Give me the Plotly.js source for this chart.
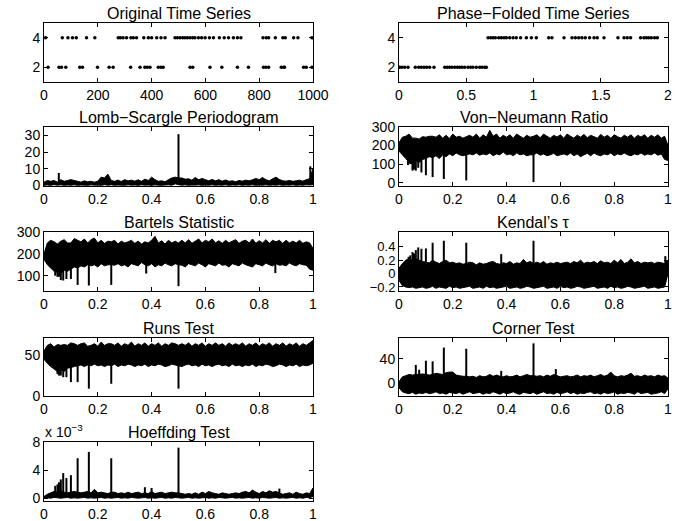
<!DOCTYPE html>
<html><head><meta charset="utf-8">
<script src="https://cdn.plot.ly/plotly-3.0.1.min.js"></script>
<style>html,body{margin:0;padding:0;background:#fff}#chart{width:690px;height:521px}</style>
</head><body><div id="chart"></div>
<script>
// ---- Original time series (time, value) ----
const tsTimeHigh = [6,68,89,106,120,158,189,276,284,294,307,323,332,344,371,388,400,419,435,450,487,496,506,516,524,533,543,553,561,574,586,599,615,630,652,670,686,704,719,732,814,826,835,860,888,897,928,944,996];
const tsTimeLow = [15,56,65,81,133,143,199,242,257,322,357,375,384,394,425,435,443,543,553,617,661,719,760,816,825,835,882,891,894,965,975,996];
// ---- Phase-folded series ----
const phaseLow = [0.005,0.022,0.042,0.067,0.121,0.146,0.166,0.186,0.206,0.228,0.260,0.340,0.359,0.377,0.394,0.414,0.434,0.451,0.468,0.488,0.513,0.533,0.550,0.575,0.600,0.617,0.637,0.649];
const phaseHigh = [0.662,0.682,0.699,0.716,0.741,0.761,0.781,0.798,0.823,0.848,0.872,0.904,0.947,0.984,1.021,1.113,1.137,1.227,1.286,1.311,1.336,1.360,1.385,1.417,1.450,1.474,1.524,1.628,1.673,1.697,1.722,1.796,1.821,1.839,1.856,1.876,1.900,1.921];
const levelLow = 2, levelHigh = 4;

// ---- Statistic spectra: upper / lower envelope of the dense trace on a 0..1 frequency grid, plus isolated spikes ----
const lsUpper = [2,3,2.5,3,2,3.5,2.5,3,3.5,3,2.5,2,2.8,2.2,2.5,2,2.6,5,4.5,6.8,3,2.5,3.2,2.4,3.5,2.8,3.2,2.6,3.4,2.5,3.8,3,5,3.5,2.5,2.8,2.2,3.5,4.5,5,4.5,4.5,3.8,4,3.2,4.8,3.4,4.2,3.5,2.8,3.6,2.8,3.5,2.6,3.3,2.5,2.8,2.2,3,2.6,3.2,2.8,3.4,4.2,3.5,4.8,3.4,2.8,4,5,3.6,2.8,2.6,3,2.5,2.8,3.2,2.6,3.5,4,10];
const lsLower = [0.2,0.3,0.1,0.5,0.2,0.4,0.1,0.3,0.2,0.4,0.1,0.3,0.2,0.1,0.4,0.2,0.3,0.1,0.5,0.2,0.4,0.1,0.3,0.2,0.1,0.4,0.2,0.3,0.1,0.4,0.2,0.3,0.1,0.4,0.2,0.1,0.3,0.4,0.2,1,0.5,0.2,0.4,0.1,0.3,0.2,0.4,0.1,0.3,0.2,0.4,0.1,0.3,0.2,0.4,0.1,0.3,0.2,0.4,0.1,0.3,0.2,0.4,0.1,0.3,0.2,0.4,0.1,0.3,0.2,0.4,0.1,0.3,0.2,0.4,0.1,0.3,0.2,0.4,0.3,0.5];
const lsSpikeFreq = [0.055,0.5,0.99];
const lsSpikeVal = [7.5,30.7,11.5];

const vnUpper = [215,245,250,262,240,240,235,248,245,250,250,245,258,240,255,238,262,245,250,240,248,255,245,262,240,258,245,282,250,262,240,255,245,258,240,262,250,240,255,245,250,258,242,262,250,240,255,246,258,240,262,250,240,256,245,260,242,255,248,240,260,245,255,240,258,248,240,256,245,258,240,255,246,258,240,255,245,258,240,250,200];
const vnLower = [170,150,130,110,100,120,110,125,130,140,135,145,130,150,140,155,145,160,150,145,150,155,150,160,148,155,150,160,145,155,150,165,150,155,145,160,150,155,145,150,150,160,148,155,145,150,158,145,150,155,148,160,145,155,140,150,158,145,160,150,145,155,150,160,145,155,150,160,150,145,155,150,160,148,155,150,160,148,155,125,120];
const vnSpikeFreq = [0.0333,0.0417,0.05,0.0556,0.0625,0.0714,0.0833,0.1,0.125,0.1667,0.25,0.5];
const vnSpikeVal = [95,100,65,70,65,80,55,40,30,20,12,3];

const btUpper = [200,250,262,255,245,258,265,250,250,270,262,255,268,250,265,272,250,262,248,258,255,262,245,258,250,255,262,248,258,245,255,250,262,280,250,260,245,262,250,258,250,262,250,265,248,258,268,250,262,255,268,250,260,248,262,250,258,265,248,258,262,250,268,248,260,250,265,248,262,255,262,248,262,250,258,250,262,248,255,250,225];
const btLower = [175,150,135,120,115,110,125,120,130,140,135,145,140,150,145,150,140,155,145,150,150,148,155,145,150,140,155,150,145,160,150,145,155,140,150,145,158,150,145,155,150,148,140,155,150,145,158,150,140,155,150,145,158,148,150,140,155,150,145,158,150,145,140,155,150,145,158,150,145,155,148,150,145,158,150,145,155,150,148,130,125];
const btSpikeFreq = [0.0417,0.05,0.0556,0.0625,0.0714,0.0833,0.1,0.125,0.1667,0.25,0.38,0.5,0.86];
const btSpikeVal = [100,95,95,80,78,85,85,58,55,58,110,52,112];

const ktUpper = [0.08,0.15,0.2,0.22,0.2,0.22,0.2,0.18,0.17,0.16,0.2,0.17,0.15,0.18,0.2,0.16,0.17,0.15,0.16,0.14,0.15,0.17,0.16,0.13,0.16,0.14,0.15,0.17,0.18,0.15,0.14,0.16,0.15,0.18,0.14,0.16,0.15,0.21,0.16,0.18,0.15,0.17,0.15,0.18,0.14,0.16,0.15,0.17,0.15,0.16,0.17,0.15,0.18,0.16,0.2,0.15,0.17,0.16,0.18,0.15,0.19,0.16,0.17,0.15,0.2,0.16,0.21,0.15,0.17,0.22,0.16,0.18,0.15,0.17,0.16,0.17,0.15,0.17,0.16,0.15,0.2];
const ktLower = [-0.1,-0.18,-0.2,-0.21,-0.2,-0.22,-0.21,-0.2,-0.22,-0.21,-0.19,-0.22,-0.2,-0.21,-0.22,-0.19,-0.21,-0.2,-0.22,-0.21,-0.2,-0.19,-0.22,-0.21,-0.2,-0.22,-0.19,-0.21,-0.2,-0.22,-0.21,-0.2,-0.19,-0.22,-0.21,-0.2,-0.22,-0.21,-0.19,-0.2,-0.22,-0.21,-0.2,-0.19,-0.22,-0.21,-0.2,-0.22,-0.19,-0.21,-0.2,-0.22,-0.21,-0.19,-0.2,-0.22,-0.21,-0.2,-0.19,-0.22,-0.21,-0.2,-0.22,-0.19,-0.21,-0.2,-0.22,-0.21,-0.19,-0.2,-0.22,-0.21,-0.2,-0.19,-0.22,-0.21,-0.2,-0.22,-0.21,-0.2,0.0];
const ktSpikeFreq = [0.0357,0.0417,0.05,0.0556,0.0625,0.0714,0.0833,0.1,0.125,0.1667,0.25,0.38,0.5,0.99];
const ktSpikeVal = [0.25,0.27,0.32,0.3,0.35,0.39,0.37,0.375,0.46,0.49,0.46,0.29,0.49,0.26];

const rnUpper = [55,62,64,60,63,62,63,62,65,64,62,64,65,61,62,64,61,66,62,64,64,62,65,61,64,62,66,61,64,62,65,61,64,62,65,61,64,62,65,64,62,64,62,65,61,64,62,65,61,64,62,65,62,64,61,65,62,64,62,65,61,64,62,65,61,64,62,65,61,64,62,65,61,64,62,65,61,64,62,65,68];
const rnLower = [45,40,36,33,30,32,30,34,35,36,37,38,36,38,37,39,37,38,36,38,37,39,36,38,37,39,38,36,38,37,39,36,38,37,39,38,36,37,39,38,37,36,38,39,37,38,36,39,37,38,36,38,39,37,38,36,39,37,38,36,38,37,39,36,38,37,39,38,36,37,39,38,36,38,37,39,36,38,37,38,40];
const rnSpikeFreq = [0.05,0.0556,0.0625,0.0714,0.0833,0.1,0.125,0.1667,0.25,0.5];
const rnSpikeVal = [27,25,25,23,23,17,17,9,15,9];

const ctUpper = [2,10,12,14,13,14,14,15,14,13,14,16,15,14,17,18,18,13,12,11,11,10,11,9,12,10,11,14,11,13,11,10,12,10,11,13,10,12,14,12,12,11,12,10,13,11,14,12,10,11,12,10,11,13,10,12,11,13,10,12,14,11,13,18,12,10,12,11,13,16,11,12,10,13,11,12,10,13,11,12,8];
const ctLower = [-8,-15,-17,-18,-16,-19,-17,-18,-16,-18,-17,-15,-18,-17,-19,-16,-17,-18,-16,-19,-17,-15,-18,-17,-16,-19,-17,-18,-15,-17,-19,-16,-18,-17,-15,-18,-19,-16,-17,-18,-16,-19,-17,-15,-18,-17,-19,-16,-18,-17,-15,-18,-16,-19,-17,-18,-16,-15,-18,-17,-19,-16,-18,-17,-15,-19,-17,-18,-16,-17,-19,-15,-18,-17,-16,-19,-18,-17,-15,-18,-10];
const ctSpikeFreq = [0.0625,0.075,0.1,0.125,0.1667,0.25,0.38,0.5,0.583];
const ctSpikeVal = [30,22,37,36,59,57,20,66,23];

const hdUpper = [0.3,0.6,0.8,1.0,0.9,1.1,0.9,0.8,0.9,1.0,0.9,0.8,0.9,1.0,0.8,1.3,0.8,0.9,0.8,0.7,0.9,0.9,0.7,0.8,0.7,0.9,0.7,0.8,0.9,0.7,0.8,0.7,1.0,0.7,0.8,0.9,0.7,0.8,0.9,0.8,0.8,0.7,0.6,0.7,0.6,0.8,0.6,0.9,0.7,1.0,0.8,0.7,0.6,0.8,0.7,0.6,0.7,0.8,0.7,0.9,1.0,0.8,1.2,0.9,0.7,1.0,0.8,1.1,0.9,1.0,0.8,0.6,0.7,0.8,0.6,0.9,0.7,0.6,0.8,0.7,1.5];
const hdLower = [0.05,0.1,0.05,0.15,0.1,0.05,0.1,0.15,0.05,0.1,0.05,0.1,0.15,0.05,0.1,0.05,0.1,0.15,0.05,0.1,0.05,0.1,0.15,0.05,0.1,0.05,0.15,0.1,0.05,0.1,0.15,0.05,0.1,0.05,0.1,0.15,0.05,0.1,0.05,0.15,0.1,0.05,0.1,0.15,0.05,0.1,0.05,0.1,0.15,0.05,0.1,0.05,0.15,0.1,0.05,0.1,0.15,0.05,0.1,0.05,0.1,0.15,0.05,0.1,0.05,0.15,0.1,0.05,0.1,0.15,0.05,0.1,0.05,0.1,0.15,0.05,0.1,0.05,0.15,0.1,0.3];
const hdSpikeFreq = [0.0417,0.05,0.0556,0.0625,0.0714,0.0833,0.1,0.125,0.1667,0.25,0.375,0.4,0.5,0.875];
const hdSpikeVal = [1.8,2.0,2.3,2.7,3.6,2.9,3.3,5.7,6.6,5.7,1.6,1.5,7.2,1.4];

const freqMin = 0, freqMax = 1;
function freqGrid(arr){ const n = arr.length; return arr.map((_, i) => freqMin + (freqMax - freqMin) * i / (n - 1)); }

const FONT = 'Liberation Sans, Arial, Helvetica, sans-serif';
const W = 690, H = 521;
const colL = [44/W, 313/W], colR = [399/W, 668/W];
function rowDom(top, bot){ return [(H - bot)/H, (H - top)/H]; }
const rows = [rowDom(23,82), rowDom(127,186), rowDom(232,291), rowDom(338,396), rowDom(442,501)];
const fx = [0,0.2,0.4,0.6,0.8,1];

const panels = [
  {title:'Original Time Series', col:colL, row:rows[0], xr:[0,1000], xt:[0,200,400,600,800,1000], yr:[1,5], yt:[2,4]},
  {title:'Phase\u2212Folded Time Series', col:colR, row:rows[0], xr:[0,2], xt:[0,0.5,1,1.5,2], yr:[1,5], yt:[2,4]},
  {title:'Lomb\u2212Scargle Periodogram', col:colL, row:rows[1], xr:[0,1], xt:fx, yr:[-0.3,35], yt:[0,10,20,30], up:lsUpper, lo:lsLower, sf:lsSpikeFreq, sv:lsSpikeVal},
  {title:'Von\u2212Neumann Ratio', col:colR, row:rows[1], xr:[0,1], xt:fx, yr:[-18,300], yt:[0,100,200,300], up:vnUpper, lo:vnLower, sf:vnSpikeFreq, sv:vnSpikeVal},
  {title:'Bartels Statistic', col:colL, row:rows[2], xr:[0,1], xt:fx, yr:[30,300], yt:[100,200,300], up:btUpper, lo:btLower, sf:btSpikeFreq, sv:btSpikeVal},
  {title:'Kendal\u2019s \u03c4', col:colR, row:rows[2], xr:[0,1], xt:fx, yr:[-0.26,0.62], yt:[-0.2,0,0.2,0.4], up:ktUpper, lo:ktLower, sf:ktSpikeFreq, sv:ktSpikeVal, tfs:13},
  {title:'Runs Test', col:colL, row:rows[3], xr:[0,1], xt:fx, yr:[0,71], yt:[0,50], up:rnUpper, lo:rnLower, sf:rnSpikeFreq, sv:rnSpikeVal},
  {title:'Corner Test', col:colR, row:rows[3], xr:[0,1], xt:fx, yr:[-22,75], yt:[0,40], up:ctUpper, lo:ctLower, sf:ctSpikeFreq, sv:ctSpikeVal},
  {title:'Hoeffding Test', col:colL, row:rows[4], xr:[0,1], xt:fx, yr:[-0.35,8], yt:[0,4,8], up:hdUpper, lo:hdLower, sf:hdSpikeFreq, sv:hdSpikeVal}
];

const traces = [];
const layout = {
  width:W, height:H, margin:{l:0,r:0,t:0,b:0}, showlegend:false,
  paper_bgcolor:'#fff', plot_bgcolor:'#fff',
  font:{family:FONT, size:14, color:'#000'}, annotations:[]
};
panels.forEach((p, i) => {
  const k = i + 1, xa = 'xaxis' + (k === 1 ? '' : k), ya = 'yaxis' + (k === 1 ? '' : k);
  const xr = 'x' + (k === 1 ? '' : k), yr = 'y' + (k === 1 ? '' : k);
  const common = {showline:true, mirror:'ticks', linecolor:'#000', linewidth:1, ticks:'inside', ticklen:4, tickcolor:'#000',
    showgrid:false, zeroline:false, fixedrange:true};
  layout[xa] = Object.assign({}, common, {domain:p.col, range:p.xr, tickvals:p.xt, anchor:yr, tickfont:{family:FONT, size:14, color:'#000'}});
  layout[ya] = Object.assign({}, common, {domain:p.row, range:p.yr, tickvals:p.yt, anchor:xr, tickfont:{family:FONT, size:p.tfs || 14, color:'#000'}});
  layout.annotations.push({text:p.title, xref:'paper', yref:'paper', x:(p.col[0]+p.col[1])/2, y:p.row[1],
    xanchor:'center', yanchor:'bottom', yshift:-1, showarrow:false, font:{family:FONT, size:16, color:'#000'}});
  if (p.up) {
    const gx = freqGrid(p.up);
    traces.push({x:gx, y:p.lo, xaxis:xr, yaxis:yr, mode:'lines', line:{color:'#000', width:1, simplify:false}, hoverinfo:'skip'});
    traces.push({x:gx, y:p.up, xaxis:xr, yaxis:yr, mode:'lines', fill:'tonexty', fillcolor:'#000', line:{color:'#000', width:1, simplify:false}, hoverinfo:'skip'});
    // spikes: vertical strokes from the band centre to the spike value
    const n = p.up.length, sx = [], sy = [];
    p.sf.forEach((f, j) => {
      const idx = Math.round((f - freqMin) / (freqMax - freqMin) * (n - 1));
      const mid = (p.up[idx] + p.lo[idx]) / 2;
      sx.push(f, f, null); sy.push(mid, p.sv[j], null);
    });
    traces.push({x:sx, y:sy, xaxis:xr, yaxis:yr, mode:'lines', line:{color:'#000', width:2}, hoverinfo:'skip'});
  }
});
// time series markers
const mk = {color:'#000', size:3.5};
traces.push({x:tsTimeHigh, y:tsTimeHigh.map(() => levelHigh), xaxis:'x', yaxis:'y', mode:'markers', marker:mk});
traces.push({x:tsTimeLow, y:tsTimeLow.map(() => levelLow), xaxis:'x', yaxis:'y', mode:'markers', marker:mk});
traces.push({x:phaseLow, y:phaseLow.map(() => levelLow), xaxis:'x2', yaxis:'y2', mode:'markers', marker:mk});
traces.push({x:phaseHigh, y:phaseHigh.map(() => levelHigh), xaxis:'x2', yaxis:'y2', mode:'markers', marker:mk});
// exponent label for Hoeffding panel
layout.annotations.push({text:'x 10<sup>\u22123</sup>', xref:'paper', yref:'paper', x:colL[0]-0.002, y:rows[4][1], xanchor:'left', yanchor:'bottom', showarrow:false, font:{family:FONT, size:14, color:'#000'}});

Plotly.newPlot('chart', traces, layout, {staticPlot:true});
</script></body></html>
